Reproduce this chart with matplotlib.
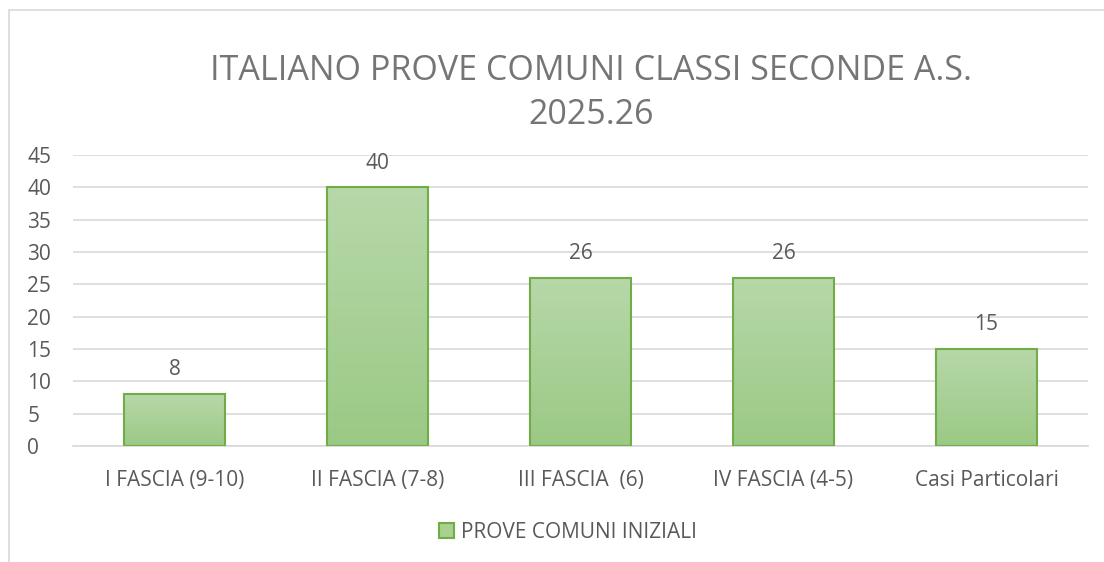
import numpy as np
import matplotlib.pyplot as plt
from matplotlib.patches import Rectangle
from matplotlib.colors import LinearSegmentedColormap

categories = ['I FASCIA (9-10)', 'II FASCIA (7-8)', 'III FASCIA  (6)',
              'IV FASCIA (4-5)', 'Casi Particolari']
values = [8, 40, 26, 26, 15]
series_name = 'PROVE COMUNI INIZIALI'
title = 'ITALIANO PROVE COMUNI CLASSI SECONDE A.S.\n2025.26'
yticks = list(range(0, 50, 5))

plt.rcParams['font.family'] = ['Open Sans', 'DejaVu Sans']
TXT = '#595959'
GRID = '#d9d9d9'
EDGE = '#70ad47'

fig = plt.figure(figsize=(11.04, 5.62), dpi=100)
ax = fig.add_axes([73 / 1104, 1 - 446 / 562, 1015 / 1104, 291 / 562])

# chart border
fig.patches.append(Rectangle((9 / 1104, -0.1), 1.2, 1 - 10 / 562 + 0.1,
                             transform=fig.transFigure, fill=False,
                             edgecolor=GRID, linewidth=1.2))

x = np.arange(len(categories))
bars = ax.bar(x, values, width=0.5, color='none', edgecolor=EDGE,
              linewidth=1.5, zorder=3)

# vertical gradient fill for each bar
grad = LinearSegmentedColormap.from_list('g', ['#9bc985', '#b7d8a9'])
g = np.linspace(0, 1, 256).reshape(-1, 1)
for b in bars:
    x0, y0, w, h = b.get_x(), b.get_y(), b.get_width(), b.get_height()
    im = ax.imshow(g, cmap=grad, origin='lower', aspect='auto',
                   extent=[x0, x0 + w, y0, y0 + h], zorder=2)
    im.set_clip_path(b)

for xi, v in zip(x, values):
    ax.annotate(str(v), (xi, v), xytext=(0, 17.5), textcoords='offset points',
                ha='center', va='center', fontsize=15, color=TXT)

ax.set_xlim(-0.5, len(categories) - 0.5)
ax.set_ylim(0, 45)
ax.set_yticks(yticks)
ax.set_xticks(x)
ax.set_xticklabels(categories)
ax.tick_params(axis='both', length=0, labelsize=15, colors=TXT)
ax.tick_params(axis='x', pad=17)
ax.tick_params(axis='y', pad=33)
for lab in ax.get_yticklabels():
    lab.set_horizontalalignment('left')
ax.grid(axis='y', color=GRID, linewidth=1.2, zorder=0)
for s in ['top', 'right', 'left']:
    ax.spines[s].set_visible(False)
ax.spines['bottom'].set_color(GRID)
ax.spines['bottom'].set_linewidth(1.2)
ax.set_axisbelow(True)

fig.text(0.535, 1 - 93 / 562, title, ha='center', va='center',
         fontsize=24.5, color='#757575', linespacing=1.4)

handle = Rectangle((0, 0), 1, 1, facecolor='#a9d08e', edgecolor=EDGE,
                   linewidth=1.5)
fig.legend([handle], [series_name], loc='center',
           bbox_to_anchor=(568 / 1104, 1 - 532 / 562), frameon=False,
           fontsize=15, labelcolor=TXT, handlelength=0.75, handleheight=0.75,
           handletextpad=0.35)

fig.savefig('out.png', dpi=100)
